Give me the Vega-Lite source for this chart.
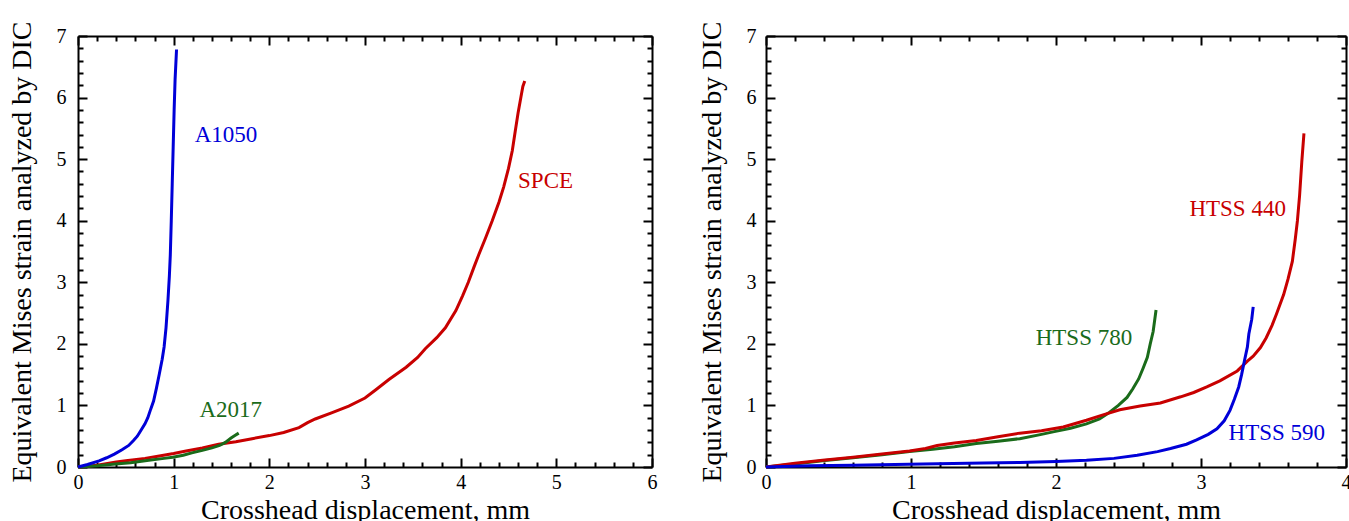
{
  "$schema": "https://vega.github.io/schema/vega-lite/v6.json",
  "padding": {"left": 8, "top": 20, "right": 2, "bottom": 0},
  "spacing": 41,
  "config": {
    "view": {"stroke": null},
    "axis": {
      "grid": false,
      "domainColor": "black",
      "domainWidth": 2,
      "tickColor": "black",
      "tickWidth": 2,
      "labelFont": "Liberation Serif",
      "labelFontSize": 20,
      "labelColor": "black",
      "titleFont": "Liberation Serif",
      "titleFontSize": 28,
      "titleFontWeight": "normal",
      "titleColor": "black",
      "labelFlush": false,
      "labelOverlap": false,
      "labelBound": false,
      "tickSize": {"condition": {"test": "abs(datum.value - round(datum.value)) < 0.001", "value": -9}, "value": -5},
      "labelExpr": "abs(datum.value - round(datum.value)) < 0.001 ? format(datum.value, 'd') : ''"
    },
    "text": {"font": "Liberation Serif", "fontSize": 23, "align": "left", "baseline": "middle"},
    "line": {"strokeWidth": 3}
  },
  "datasets": {
    "left_lines": [
      {"series": "SPCE", "x": 0, "y": 0}, {"series": "SPCE", "x": 0.2, "y": 0.03}, {"series": "SPCE", "x": 0.4, "y": 0.08},
      {"series": "SPCE", "x": 0.5, "y": 0.1}, {"series": "SPCE", "x": 0.7, "y": 0.14}, {"series": "SPCE", "x": 0.85, "y": 0.18},
      {"series": "SPCE", "x": 1.0, "y": 0.22}, {"series": "SPCE", "x": 1.13, "y": 0.26}, {"series": "SPCE", "x": 1.3, "y": 0.31},
      {"series": "SPCE", "x": 1.47, "y": 0.37}, {"series": "SPCE", "x": 1.65, "y": 0.41}, {"series": "SPCE", "x": 1.82, "y": 0.46},
      {"series": "SPCE", "x": 2.0, "y": 0.51}, {"series": "SPCE", "x": 2.15, "y": 0.56}, {"series": "SPCE", "x": 2.31, "y": 0.64},
      {"series": "SPCE", "x": 2.4, "y": 0.72}, {"series": "SPCE", "x": 2.48, "y": 0.78}, {"series": "SPCE", "x": 2.65, "y": 0.88},
      {"series": "SPCE", "x": 2.83, "y": 0.99}, {"series": "SPCE", "x": 3.0, "y": 1.12}, {"series": "SPCE", "x": 3.11, "y": 1.25},
      {"series": "SPCE", "x": 3.25, "y": 1.42}, {"series": "SPCE", "x": 3.43, "y": 1.62}, {"series": "SPCE", "x": 3.55, "y": 1.78},
      {"series": "SPCE", "x": 3.63, "y": 1.92}, {"series": "SPCE", "x": 3.75, "y": 2.1}, {"series": "SPCE", "x": 3.84, "y": 2.26},
      {"series": "SPCE", "x": 3.95, "y": 2.54}, {"series": "SPCE", "x": 4.02, "y": 2.78}, {"series": "SPCE", "x": 4.08, "y": 3.0},
      {"series": "SPCE", "x": 4.14, "y": 3.25}, {"series": "SPCE", "x": 4.19, "y": 3.45}, {"series": "SPCE", "x": 4.26, "y": 3.72},
      {"series": "SPCE", "x": 4.33, "y": 4.0}, {"series": "SPCE", "x": 4.4, "y": 4.3}, {"series": "SPCE", "x": 4.45, "y": 4.55},
      {"series": "SPCE", "x": 4.5, "y": 4.85}, {"series": "SPCE", "x": 4.54, "y": 5.14}, {"series": "SPCE", "x": 4.57, "y": 5.45},
      {"series": "SPCE", "x": 4.6, "y": 5.75}, {"series": "SPCE", "x": 4.63, "y": 6.01}, {"series": "SPCE", "x": 4.65, "y": 6.18},
      {"series": "SPCE", "x": 4.67, "y": 6.27},
      {"series": "A2017", "x": 0, "y": 0}, {"series": "A2017", "x": 0.2, "y": 0.02}, {"series": "A2017", "x": 0.39, "y": 0.05},
      {"series": "A2017", "x": 0.55, "y": 0.07}, {"series": "A2017", "x": 0.74, "y": 0.11}, {"series": "A2017", "x": 0.9, "y": 0.14},
      {"series": "A2017", "x": 0.99, "y": 0.16}, {"series": "A2017", "x": 1.1, "y": 0.19}, {"series": "A2017", "x": 1.19, "y": 0.23},
      {"series": "A2017", "x": 1.3, "y": 0.27}, {"series": "A2017", "x": 1.4, "y": 0.31}, {"series": "A2017", "x": 1.48, "y": 0.35},
      {"series": "A2017", "x": 1.54, "y": 0.4}, {"series": "A2017", "x": 1.6, "y": 0.47}, {"series": "A2017", "x": 1.64, "y": 0.51},
      {"series": "A2017", "x": 1.68, "y": 0.55},
      {"series": "A1050", "x": 0, "y": 0}, {"series": "A1050", "x": 0.1, "y": 0.04}, {"series": "A1050", "x": 0.22, "y": 0.1},
      {"series": "A1050", "x": 0.3, "y": 0.15}, {"series": "A1050", "x": 0.38, "y": 0.21}, {"series": "A1050", "x": 0.46, "y": 0.28},
      {"series": "A1050", "x": 0.53, "y": 0.35}, {"series": "A1050", "x": 0.58, "y": 0.43}, {"series": "A1050", "x": 0.62, "y": 0.5},
      {"series": "A1050", "x": 0.66, "y": 0.6}, {"series": "A1050", "x": 0.7, "y": 0.7}, {"series": "A1050", "x": 0.73, "y": 0.8},
      {"series": "A1050", "x": 0.76, "y": 0.94}, {"series": "A1050", "x": 0.79, "y": 1.07}, {"series": "A1050", "x": 0.82, "y": 1.28},
      {"series": "A1050", "x": 0.85, "y": 1.51}, {"series": "A1050", "x": 0.88, "y": 1.75}, {"series": "A1050", "x": 0.9, "y": 1.95},
      {"series": "A1050", "x": 0.92, "y": 2.26}, {"series": "A1050", "x": 0.94, "y": 2.7}, {"series": "A1050", "x": 0.955, "y": 3.1},
      {"series": "A1050", "x": 0.965, "y": 3.45}, {"series": "A1050", "x": 0.975, "y": 4.0}, {"series": "A1050", "x": 0.985, "y": 4.6},
      {"series": "A1050", "x": 0.995, "y": 5.2}, {"series": "A1050", "x": 1.005, "y": 5.8}, {"series": "A1050", "x": 1.015, "y": 6.3},
      {"series": "A1050", "x": 1.03, "y": 6.78}
    ],
    "left_labels": [
      {"series": "A1050", "x": 1.22, "y": 5.39},
      {"series": "A2017", "x": 1.27, "y": 0.93},
      {"series": "SPCE", "x": 4.6, "y": 4.64}
    ],
    "right_lines": [
      {"series": "HTSS 780", "x": 0, "y": 0}, {"series": "HTSS 780", "x": 0.2, "y": 0.05}, {"series": "HTSS 780", "x": 0.39, "y": 0.1},
      {"series": "HTSS 780", "x": 0.6, "y": 0.15}, {"series": "HTSS 780", "x": 0.8, "y": 0.2}, {"series": "HTSS 780", "x": 0.99, "y": 0.25},
      {"series": "HTSS 780", "x": 1.15, "y": 0.29}, {"series": "HTSS 780", "x": 1.3, "y": 0.33}, {"series": "HTSS 780", "x": 1.45, "y": 0.38},
      {"series": "HTSS 780", "x": 1.6, "y": 0.42}, {"series": "HTSS 780", "x": 1.75, "y": 0.46}, {"series": "HTSS 780", "x": 1.9, "y": 0.53},
      {"series": "HTSS 780", "x": 1.98, "y": 0.57}, {"series": "HTSS 780", "x": 2.1, "y": 0.63}, {"series": "HTSS 780", "x": 2.21, "y": 0.7},
      {"series": "HTSS 780", "x": 2.3, "y": 0.78}, {"series": "HTSS 780", "x": 2.37, "y": 0.89}, {"series": "HTSS 780", "x": 2.43, "y": 1.0},
      {"series": "HTSS 780", "x": 2.49, "y": 1.13}, {"series": "HTSS 780", "x": 2.53, "y": 1.27}, {"series": "HTSS 780", "x": 2.57, "y": 1.43},
      {"series": "HTSS 780", "x": 2.6, "y": 1.6}, {"series": "HTSS 780", "x": 2.63, "y": 1.78}, {"series": "HTSS 780", "x": 2.65, "y": 2.0},
      {"series": "HTSS 780", "x": 2.67, "y": 2.2}, {"series": "HTSS 780", "x": 2.69, "y": 2.55},
      {"series": "HTSS 440", "x": 0, "y": 0}, {"series": "HTSS 440", "x": 0.2, "y": 0.06}, {"series": "HTSS 440", "x": 0.39, "y": 0.11},
      {"series": "HTSS 440", "x": 0.6, "y": 0.16}, {"series": "HTSS 440", "x": 0.8, "y": 0.21}, {"series": "HTSS 440", "x": 0.99, "y": 0.26},
      {"series": "HTSS 440", "x": 1.1, "y": 0.3}, {"series": "HTSS 440", "x": 1.18, "y": 0.35}, {"series": "HTSS 440", "x": 1.3, "y": 0.39},
      {"series": "HTSS 440", "x": 1.45, "y": 0.43}, {"series": "HTSS 440", "x": 1.6, "y": 0.49}, {"series": "HTSS 440", "x": 1.75, "y": 0.55},
      {"series": "HTSS 440", "x": 1.9, "y": 0.59}, {"series": "HTSS 440", "x": 2.05, "y": 0.65}, {"series": "HTSS 440", "x": 2.21, "y": 0.76},
      {"series": "HTSS 440", "x": 2.33, "y": 0.85}, {"series": "HTSS 440", "x": 2.44, "y": 0.93}, {"series": "HTSS 440", "x": 2.58, "y": 0.99},
      {"series": "HTSS 440", "x": 2.72, "y": 1.04}, {"series": "HTSS 440", "x": 2.86, "y": 1.14}, {"series": "HTSS 440", "x": 2.95, "y": 1.21},
      {"series": "HTSS 440", "x": 3.04, "y": 1.3}, {"series": "HTSS 440", "x": 3.13, "y": 1.4}, {"series": "HTSS 440", "x": 3.25, "y": 1.56},
      {"series": "HTSS 440", "x": 3.32, "y": 1.72}, {"series": "HTSS 440", "x": 3.36, "y": 1.8}, {"series": "HTSS 440", "x": 3.41, "y": 1.94},
      {"series": "HTSS 440", "x": 3.45, "y": 2.1}, {"series": "HTSS 440", "x": 3.49, "y": 2.3}, {"series": "HTSS 440", "x": 3.52, "y": 2.48},
      {"series": "HTSS 440", "x": 3.57, "y": 2.8}, {"series": "HTSS 440", "x": 3.6, "y": 3.05}, {"series": "HTSS 440", "x": 3.63, "y": 3.34},
      {"series": "HTSS 440", "x": 3.65, "y": 3.7}, {"series": "HTSS 440", "x": 3.665, "y": 4.0}, {"series": "HTSS 440", "x": 3.68, "y": 4.41},
      {"series": "HTSS 440", "x": 3.695, "y": 4.95}, {"series": "HTSS 440", "x": 3.71, "y": 5.42},
      {"series": "HTSS 590", "x": 0, "y": 0}, {"series": "HTSS 590", "x": 0.3, "y": 0.02}, {"series": "HTSS 590", "x": 0.6, "y": 0.03},
      {"series": "HTSS 590", "x": 1.08, "y": 0.05}, {"series": "HTSS 590", "x": 1.5, "y": 0.065}, {"series": "HTSS 590", "x": 1.75, "y": 0.075},
      {"series": "HTSS 590", "x": 2.0, "y": 0.09}, {"series": "HTSS 590", "x": 2.21, "y": 0.11}, {"series": "HTSS 590", "x": 2.4, "y": 0.14},
      {"series": "HTSS 590", "x": 2.56, "y": 0.19}, {"series": "HTSS 590", "x": 2.7, "y": 0.25}, {"series": "HTSS 590", "x": 2.79, "y": 0.3},
      {"series": "HTSS 590", "x": 2.9, "y": 0.37}, {"series": "HTSS 590", "x": 2.97, "y": 0.44}, {"series": "HTSS 590", "x": 3.05, "y": 0.53},
      {"series": "HTSS 590", "x": 3.11, "y": 0.62}, {"series": "HTSS 590", "x": 3.16, "y": 0.75}, {"series": "HTSS 590", "x": 3.2, "y": 0.92},
      {"series": "HTSS 590", "x": 3.23, "y": 1.1}, {"series": "HTSS 590", "x": 3.26, "y": 1.3}, {"series": "HTSS 590", "x": 3.28, "y": 1.5},
      {"series": "HTSS 590", "x": 3.3, "y": 1.73}, {"series": "HTSS 590", "x": 3.32, "y": 1.95}, {"series": "HTSS 590", "x": 3.33, "y": 2.16},
      {"series": "HTSS 590", "x": 3.35, "y": 2.4}, {"series": "HTSS 590", "x": 3.36, "y": 2.6}
    ],
    "right_labels": [
      {"series": "HTSS 440", "x": 2.92, "y": 4.19},
      {"series": "HTSS 780", "x": 1.86, "y": 2.1},
      {"series": "HTSS 590", "x": 3.19, "y": 0.56}
    ]
  },
  "hconcat": [
    {
      "width": 574,
      "height": 431,
      "resolve": {"axis": {"x": "independent", "y": "independent"}},
      "layer": [
        {
          "data": {"name": "left_lines"},
          "mark": {"type": "line", "strokeWidth": 3},
          "encoding": {
            "x": {"field": "x", "type": "quantitative",
              "scale": {"domain": [0, 6], "nice": false, "zero": false},
              "axis": {"orient": "bottom", "title": "Crosshead displacement, mm", "labelPadding": 14, "titlePadding": 0,
                "values": [0,0.2,0.4,0.6,0.8,1,1.2,1.4,1.6,1.8,2,2.2,2.4,2.6,2.8,3,3.2,3.4,3.6,3.8,4,4.2,4.4,4.6,4.8,5,5.2,5.4,5.6,5.8,6]}},
            "y": {"field": "y", "type": "quantitative",
              "scale": {"domain": [0, 7], "nice": false},
              "axis": {"orient": "left", "title": "Equivalent Mises strain analyzed by DIC", "labelPadding": 21, "titlePadding": 20,
                "values": [0,0.2,0.4,0.6,0.8,1,1.2,1.4,1.6,1.8,2,2.2,2.4,2.6,2.8,3,3.2,3.4,3.6,3.8,4,4.2,4.4,4.6,4.8,5,5.2,5.4,5.6,5.8,6,6.2,6.4,6.6,6.8,7]}},
            "color": {"field": "series", "type": "nominal",
              "scale": {"domain": ["A1050", "A2017", "SPCE", "HTSS 440", "HTSS 590", "HTSS 780"], "range": ["#0000d8", "#1a6b1a", "#c80000", "#c80000", "#0000d8", "#1a6b1a"]},
              "legend": null}
          }
        },
        {
          "data": {"name": "left_labels"},
          "mark": {"type": "text"},
          "encoding": {
            "x": {"field": "x", "type": "quantitative",
              "axis": {"orient": "top", "title": null, "labels": false,
                "values": [0,0.2,0.4,0.6,0.8,1,1.2,1.4,1.6,1.8,2,2.2,2.4,2.6,2.8,3,3.2,3.4,3.6,3.8,4,4.2,4.4,4.6,4.8,5,5.2,5.4,5.6,5.8,6]}},
            "y": {"field": "y", "type": "quantitative",
              "axis": {"orient": "right", "title": null, "labels": false,
                "values": [0,0.2,0.4,0.6,0.8,1,1.2,1.4,1.6,1.8,2,2.2,2.4,2.6,2.8,3,3.2,3.4,3.6,3.8,4,4.2,4.4,4.6,4.8,5,5.2,5.4,5.6,5.8,6,6.2,6.4,6.6,6.8,7]}},
            "text": {"field": "series"},
            "color": {"field": "series", "type": "nominal", "legend": null}
          }
        }
      ]
    },
    {
      "width": 580,
      "height": 431,
      "resolve": {"axis": {"x": "independent", "y": "independent"}},
      "layer": [
        {
          "data": {"name": "right_lines"},
          "mark": {"type": "line", "strokeWidth": 3},
          "encoding": {
            "x": {"field": "x", "type": "quantitative",
              "scale": {"domain": [0, 4], "nice": false, "zero": false},
              "axis": {"orient": "bottom", "title": "Crosshead displacement, mm", "labelPadding": 14, "titlePadding": 0,
                "values": [0,0.2,0.4,0.6,0.8,1,1.2,1.4,1.6,1.8,2,2.2,2.4,2.6,2.8,3,3.2,3.4,3.6,3.8,4]}},
            "y": {"field": "y", "type": "quantitative",
              "scale": {"domain": [0, 7], "nice": false},
              "axis": {"orient": "left", "title": "Equivalent Mises strain analyzed by DIC", "labelPadding": 19, "titlePadding": 20,
                "values": [0,0.2,0.4,0.6,0.8,1,1.2,1.4,1.6,1.8,2,2.2,2.4,2.6,2.8,3,3.2,3.4,3.6,3.8,4,4.2,4.4,4.6,4.8,5,5.2,5.4,5.6,5.8,6,6.2,6.4,6.6,6.8,7]}},
            "color": {"field": "series", "type": "nominal", "legend": null}
          }
        },
        {
          "data": {"name": "right_labels"},
          "mark": {"type": "text"},
          "encoding": {
            "x": {"field": "x", "type": "quantitative",
              "axis": {"orient": "top", "title": null, "labels": false,
                "values": [0,0.2,0.4,0.6,0.8,1,1.2,1.4,1.6,1.8,2,2.2,2.4,2.6,2.8,3,3.2,3.4,3.6,3.8,4]}},
            "y": {"field": "y", "type": "quantitative",
              "axis": {"orient": "right", "title": null, "labels": false,
                "values": [0,0.2,0.4,0.6,0.8,1,1.2,1.4,1.6,1.8,2,2.2,2.4,2.6,2.8,3,3.2,3.4,3.6,3.8,4,4.2,4.4,4.6,4.8,5,5.2,5.4,5.6,5.8,6,6.2,6.4,6.6,6.8,7]}},
            "text": {"field": "series"},
            "color": {"field": "series", "type": "nominal", "legend": null}
          }
        }
      ]
    }
  ]
}
